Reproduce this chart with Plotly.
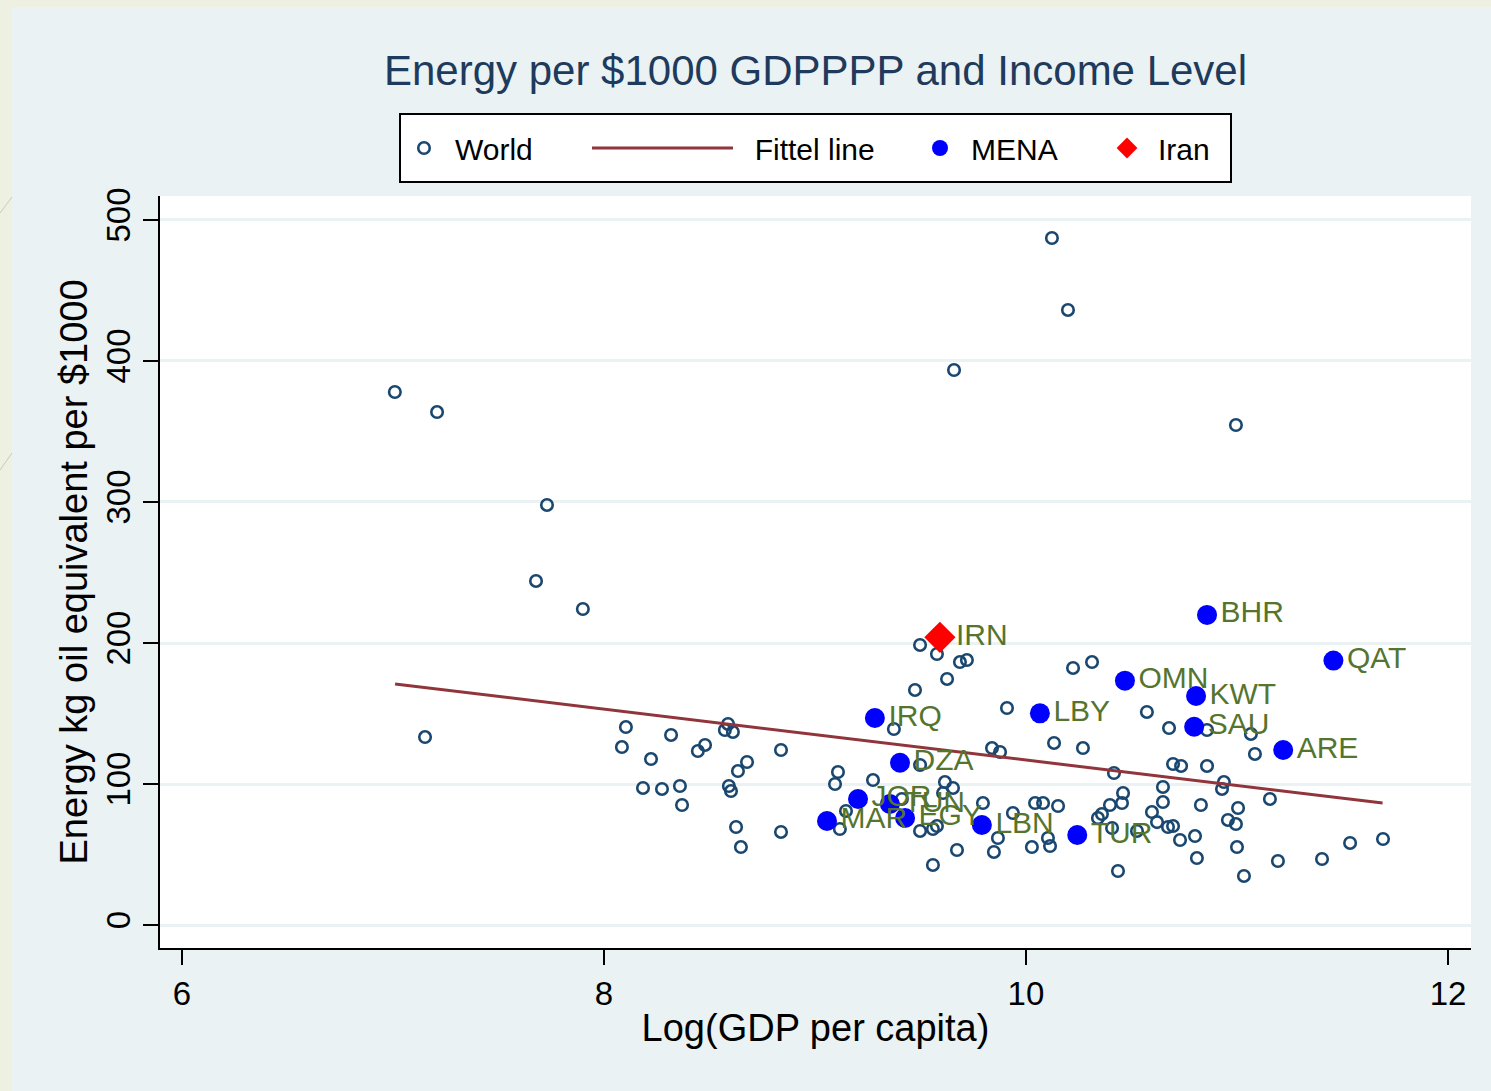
import plotly.graph_objects as go

# World sample: log GDP per capita vs energy use (kg oil equivalent per $1000 GDP PPP)
world_x = [7.009, 7.209, 7.730, 7.678, 7.900, 7.152, 8.104, 8.085, 8.223, 8.185,
           8.275, 8.318, 8.360, 8.370, 8.445, 8.479, 8.588, 8.573, 8.611, 8.592,
           8.602, 8.635, 8.678, 8.626, 8.649, 8.839, 8.839, 9.109, 9.095, 9.275,
           9.147, 9.118, 9.498, 9.616, 9.654, 9.607, 9.412, 9.498, 9.559, 9.578,
           9.673, 9.559, 9.796, 9.867, 9.848, 9.938, 10.043, 10.081, 10.152, 10.028,
           10.104, 10.114, 9.498, 9.578, 9.687, 9.720, 9.626, 9.474, 9.374, 9.910,
           9.839, 9.877, 10.133, 10.270, 10.223, 10.313, 10.573, 10.678, 10.858, 11.066,
           11.085, 10.417, 10.697, 10.735, 10.858, 10.938, 10.929, 11.156, 10.649, 10.649,
           10.460, 10.455, 10.398, 10.360, 10.341, 10.597, 10.621, 10.673, 10.697, 10.829,
           11.005, 10.957, 10.995, 10.408, 10.526, 10.730, 10.801, 10.810, 11.000, 11.033,
           11.194, 10.436, 11.403, 11.536, 11.692, 10.123, 10.199, 9.659, 10.995]
world_y = [378.0, 363.8, 297.9, 244.0, 224.1, 133.3, 140.4, 126.2, 117.7, 97.2,
           96.5, 134.8, 98.6, 85.1, 123.4, 127.7, 142.6, 138.3, 136.9, 98.6,
           95.0, 109.2, 115.6, 69.5, 55.3, 124.1, 66.0, 108.5, 100.0, 102.8,
           80.9, 68.1, 113.5, 101.4, 97.2, 93.6, 89.4, 66.7, 68.1, 70.2,
           53.2, 42.6, 86.5, 61.7, 51.8, 79.4, 86.5, 86.5, 84.4, 55.3,
           61.7, 56.0, 198.6, 192.2, 186.5, 187.9, 174.5, 166.7, 139.0, 153.9,
           125.5, 122.7, 129.1, 125.5, 182.3, 186.5, 151.1, 139.7, 138.3, 135.5,
           121.3, 107.8, 114.2, 112.8, 112.8, 101.4, 96.5, 89.4, 97.9, 87.2,
           93.6, 86.5, 85.1, 78.7, 75.9, 80.1, 73.0, 69.5, 70.2, 85.1,
           83.0, 74.5, 71.6, 68.8, 66.7, 60.3, 63.1, 47.5, 55.3, 34.8,
           45.4, 38.3, 46.8, 58.2, 61.0, 487.2, 436.2, 393.6, 354.6]

# fitted line end points
fit_x = [7.01, 11.69]
fit_y = [171.0, 86.5]

mena_codes = ["IRQ", "DZA", "JOR", "TUN", "MAR", "EGY", "LBN", "TUR",
              "LBY", "OMN", "KWT", "SAU", "BHR", "QAT", "ARE"]
mena_x = [9.284, 9.403, 9.204, 9.355, 9.057, 9.427, 9.791, 10.243,
          10.066, 10.469, 10.806, 10.797, 10.858, 11.457, 11.219]
mena_y = [146.8, 115.1, 89.4, 85.8, 73.8, 75.9, 70.9, 63.8,
          150.1, 173.3, 162.4, 140.6, 219.9, 187.5, 124.1]

iran_code = ["IRN"]
iran_x = [9.592]
iran_y = [204.0]

x_ticks = [6, 8, 10, 12]
y_ticks = [0, 100, 200, 300, 400, 500]

FONT = "Liberation Sans, Arial, sans-serif"
NAVY = "#1a476f"
MAROON = "#90353b"
GREEN = "#55752f"
BG = "#eaf2f3"

W, H = 1491, 1091
ML, MR, MT, MB = 160, 20, 196, 143
PW, PH = W - ML - MR, H - MT - MB


def px_x(p):
    return (p - ML) / PW


def px_y(p):
    return (H - MB - p) / PH


fig = go.Figure()

fig.add_trace(go.Scatter(x=world_x, y=world_y, mode="markers", name="World",
                         marker=dict(symbol="circle-open", size=11.5, color=NAVY,
                                     line=dict(width=2.6, color=NAVY)),
                         legend="legend"))
fig.add_trace(go.Scatter(x=fit_x, y=fit_y, mode="lines", name="\u00a0\u00a0Fittel line",
                         line=dict(color=MAROON, width=3), legend="legend2"))
fig.add_trace(go.Scatter(x=mena_x, y=mena_y, mode="markers+text", name="MENA" + "\u00a0" * 4,
                         text=mena_codes, textposition="middle right",
                         textfont=dict(size=30, color=GREEN, family=FONT),
                         marker=dict(symbol="circle", size=20, color="#0000ff"),
                         legend="legend3"))
fig.add_trace(go.Scatter(x=iran_x, y=iran_y, mode="markers+text", name="Iran",
                         text=iran_code, textposition="middle right",
                         textfont=dict(size=30, color=GREEN, family=FONT),
                         marker=dict(symbol="diamond", size=24, color="#ff0000"),
                         legend="legend3"))

leg_common = dict(orientation="h", xanchor="left", y=px_y(148), yanchor="middle",
                  bgcolor="rgba(0,0,0,0)", borderwidth=0,
                  font=dict(size=30, color="black", family=FONT))

shapes = [
    # slide background strips around the chart
    dict(type="rect", xref="paper", yref="paper", x0=px_x(0), x1=px_x(12), y0=px_y(H), y1=px_y(0),
         fillcolor="#eef1e2", line=dict(width=0), layer="below"),
    dict(type="rect", xref="paper", yref="paper", x0=px_x(0), x1=px_x(W), y0=px_y(7), y1=px_y(0),
         fillcolor="#eef1e2", line=dict(width=0), layer="below"),
    dict(type="line", xref="paper", yref="paper", x0=px_x(0), x1=px_x(12), y0=px_y(213), y1=px_y(197),
         line=dict(color="#c9cbb8", width=1)),
    dict(type="line", xref="paper", yref="paper", x0=px_x(0), x1=px_x(12), y0=px_y(470), y1=px_y(453),
         line=dict(color="#c9cbb8", width=1)),
    # legend frame
    dict(type="rect", xref="paper", yref="paper", x0=px_x(400), x1=px_x(1231), y0=px_y(182), y1=px_y(114),
         fillcolor="white", line=dict(color="black", width=2), layer="below"),
]

fig.update_layout(
    width=W, height=H,
    margin=dict(l=ML, r=MR, t=MT, b=MB),
    paper_bgcolor=BG, plot_bgcolor="white",
    font=dict(family=FONT, color="black"),
    showlegend=True,
    title=dict(text="Energy per $1000 GDPPPP and Income Level", x=0.5, xref="paper",
               y=1 - 70 / H, yref="container", yanchor="middle", xanchor="center",
               font=dict(size=42, color="#1e3a5c", family=FONT)),
    legend=dict(leg_common, x=px_x(393), itemwidth=52),
    legend2=dict(leg_common, x=px_x(587), itemwidth=141),
    legend3=dict(leg_common, x=px_x(909), itemwidth=52),
    shapes=shapes,
)

fig.update_xaxes(range=[5.896, 12.109], tickvals=x_ticks, ticks="outside", ticklen=15,
                 tickwidth=1.5, tickcolor="black", showline=True, linecolor="black",
                 linewidth=2, showgrid=False, zeroline=False,
                 tickfont=dict(size=33, color="black"),
                 title=dict(text="Log(GDP per capita)", font=dict(size=38, color="black"), standoff=4))
fig.update_yaxes(range=[-16.3, 517.0], tickvals=y_ticks, ticks="outside", ticklen=15,
                 tickwidth=1.5, tickcolor="black", showline=True, linecolor="black",
                 linewidth=2, showgrid=True, gridcolor=BG, gridwidth=2.5, zeroline=False,
                 tickangle=-90, tickfont=dict(size=33, color="black"),
                 title=dict(text="Energy kg oil equivalent per $1000",
                            font=dict(size=38, color="black"), standoff=0))

fig.write_html("out.html", config={"displayModeBar": False},
               post_script="document.body.style.margin='0';document.body.style.overflow='hidden';")
